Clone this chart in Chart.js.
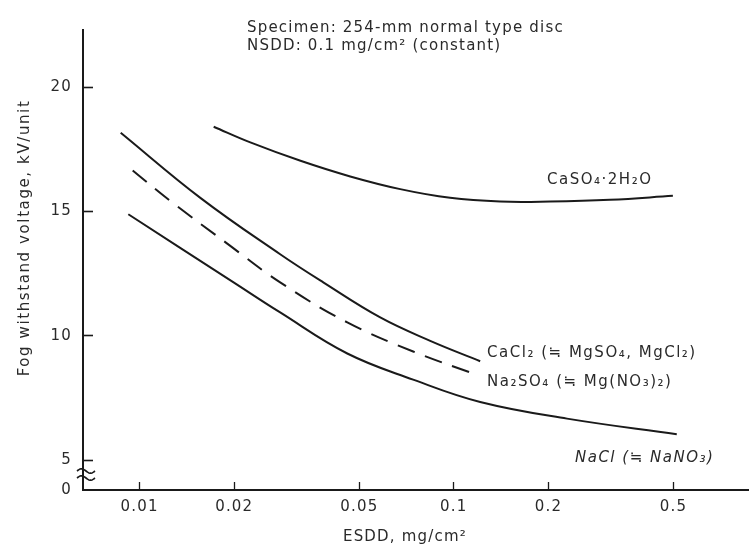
<!DOCTYPE html>
<html><head><meta charset="utf-8">
<script src="https://cdn.jsdelivr.net/npm/chart.js@4/dist/chart.umd.min.js"></script>
<style>html,body{margin:0;padding:0;background:#fff;}canvas{display:block;}</style>
</head><body>
<canvas id="c" width="749" height="551"></canvas>
<script>
// ---- data ----
const xTicks = [0.01, 0.02, 0.05, 0.1, 0.2, 0.5];
const xTickLabels = ['0.01', '0.02', '0.05', '0.1', '0.2', '0.5'];
const yTicks = [0, 5, 10, 15, 20];

const seriesNames = ['CaSO₄·2H₂O', 'CaCl₂ (≒ MgSO₄, MgCl₂)', 'Na₂SO₄ (≒ Mg(NO₃)₂)', 'NaCl (≒ NaNO₃)'];

const caso4X = [0.0172, 0.0225, 0.0325, 0.0468, 0.0675, 0.0973, 0.1404, 0.2024, 0.314, 0.498];
const caso4Y = [18.41, 17.78, 17.04, 16.41, 15.90, 15.55, 15.40, 15.40, 15.47, 15.63];

const cacl2X = [0.0087, 0.0156, 0.0280, 0.0384, 0.0583, 0.0841, 0.1213];
const cacl2Y = [18.17, 15.55, 13.28, 12.15, 10.74, 9.80, 8.98];

const na2so4X = [0.0095, 0.0125, 0.0190, 0.0280, 0.0458, 0.0742, 0.1186];
const na2so4Y = [16.65, 15.43, 13.71, 12.15, 10.54, 9.37, 8.43];

const naclX = [0.0092, 0.0199, 0.0280, 0.0458, 0.0742, 0.1213, 0.2292, 0.5124];
const naclY = [14.89, 12.15, 10.94, 9.29, 8.24, 7.34, 6.67, 6.04];

// ---- styling ----
const LINE = '#1a1a1a';
const TEXT = '#2a2a2a';
const FONT = '"DejaVu Sans", sans-serif';
const Y_MIN = 3.8, Y_MAX = 22.3;
const X_MIN = 0.0066, X_MAX = 0.87;

const pts = (xs, ys) => xs.map((x, i) => ({x, y: ys[i]}));

const labelAnchors = [
  {x: 0.198, y: 16.26, italic: false},
  {x: 0.1276, y: 9.29, italic: false},
  {x: 0.1276, y: 8.12, italic: false},
  {x: 0.243, y: 5.07, italic: true}
];

const deco = {
  id: 'deco',
  beforeDraw(chart) {
    const ctx = chart.ctx;
    ctx.save();
    ctx.fillStyle = '#fff';
    ctx.fillRect(0, 0, chart.width, chart.height);
    ctx.restore();
    ctx.letterSpacing = '1.2px';
  },
  afterDraw(chart) {
    const {ctx, chartArea, scales: {x, y}} = chart;
    ctx.save();
    ctx.letterSpacing = '1.2px';
    ctx.fillStyle = TEXT;
    ctx.font = '15px ' + FONT;
    ctx.textBaseline = 'middle';
    ctx.textAlign = 'left';
    ctx.fillText('Specimen: 254-mm normal type disc', 247, 28);
    ctx.fillText('NSDD: 0.1 mg/cm² (constant)', 247, 46);

    ctx.letterSpacing = '1.5px';
    labelAnchors.forEach((a, i) => {
      ctx.font = (a.italic ? 'italic ' : '') + '15px ' + FONT;
      ctx.fillText(seriesNames[i], x.getPixelForValue(a.x), y.getPixelForValue(a.y));
    });

    ctx.letterSpacing = '1.2px';
    ctx.font = '15px ' + FONT;
    ctx.textAlign = 'center';
    ctx.fillText('ESDD, mg/cm²', 405, 537);
    ctx.letterSpacing = '1.6px';
    ctx.save();
    ctx.translate(25, 238);
    ctx.rotate(-Math.PI / 2);
    ctx.fillText('Fog withstand voltage, kV/unit', 0, 0);
    ctx.restore();

    // axis break symbol
    ctx.strokeStyle = LINE;
    ctx.lineWidth = 1.6;
    const x0 = chartArea.left - 6;
    for (const yy of [471, 478]) {
      ctx.beginPath();
      for (let i = 0; i <= 18; i++) {
        const xx = x0 + i;
        const yv = yy - 2.2 * Math.sin(i / 18 * 2 * Math.PI);
        if (i === 0) ctx.moveTo(xx, yv); else ctx.lineTo(xx, yv);
      }
      ctx.stroke();
    }
    ctx.restore();
  }
};

const lineDs = (label, data, dash) => ({
  label, data,
  borderColor: LINE,
  borderWidth: 2,
  borderDash: dash || [],
  pointRadius: 0,
  fill: false,
  tension: 0.4
});

new Chart(document.getElementById('c'), {
  type: 'line',
  data: {
    datasets: [
      lineDs(seriesNames[0], pts(caso4X, caso4Y)),
      lineDs(seriesNames[1], pts(cacl2X, cacl2Y)),
      lineDs(seriesNames[2], pts(na2so4X, na2so4Y), [18, 11]),
      lineDs(seriesNames[3], pts(naclX, naclY))
    ]
  },
  options: {
    responsive: false,
    animation: false,
    devicePixelRatio: 1,
    layout: {padding: {top: 17, left: 0, right: 0, bottom: 0}},
    plugins: {legend: {display: false}, tooltip: {enabled: false}},
    scales: {
      x: {
        type: 'logarithmic',
        min: X_MIN, max: X_MAX,
        bounds: 'data',
        afterBuildTicks: s => { s.ticks = xTicks.map(v => ({value: v})); },
        afterFit: s => { s.height = 61; },
        border: {display: true, color: LINE, width: 2},
        grid: {display: true, drawOnChartArea: false, drawTicks: true, tickLength: -8, tickColor: LINE, tickWidth: 1.3},
        ticks: {
          autoSkip: false, maxRotation: 0,
          padding: 16,
          color: TEXT,
          font: {family: 'DejaVu Sans', size: 15},
          callback: v => xTickLabels[xTicks.indexOf(v)]
        }
      },
      y: {
        type: 'linear',
        min: Y_MIN, max: Y_MAX,
        bounds: 'data',
        afterBuildTicks: s => { s.ticks = yTicks.map(v => ({value: v === 0 ? Y_MIN : v})); },
        afterFit: s => { s.width = 83; },
        border: {display: true, color: LINE, width: 2},
        grid: {
          display: true, drawOnChartArea: false, drawTicks: true, tickLength: -10,
          tickWidth: 1.6,
          tickColor: c => (c.tick && c.tick.value === Y_MIN) ? 'rgba(0,0,0,0)' : LINE
        },
        ticks: {
          padding: 21,
          color: TEXT,
          font: {family: 'DejaVu Sans', size: 15},
          callback: v => (v === Y_MIN ? '0' : String(v))
        }
      }
    }
  },
  plugins: [deco]
});
</script>
</body></html>
